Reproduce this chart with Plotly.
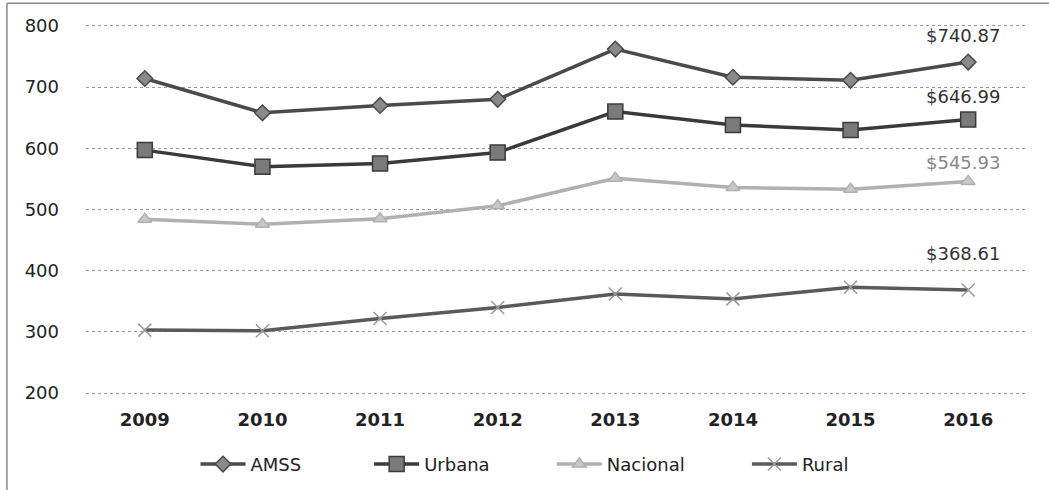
import plotly.graph_objects as go

years = ["2009", "2010", "2011", "2012", "2013", "2014", "2015", "2016"]
amss = [714, 658, 670, 680, 762, 716, 711, 740.87]
urbana = [597, 570, 575, 593, 660, 638, 630, 646.99]
nacional = [484, 476, 485, 506, 551, 536, 533, 545.93]
rural = [303, 302, 322, 340, 362, 354, 373, 368.61]
labels_end = ["$740.87", "$646.99", "$545.93", "$368.61"]

series = [
    ("AMSS", amss, "#4a4a4a", "#8a8a8a", "diamond", 12),
    ("Urbana", urbana, "#3a3a3a", "#7a7a7a", "square", 15),
    ("Nacional", nacional, "#b0b0b0", "#c8c8c8", "triangle-up", 12),
    ("Rural", rural, "#5a5a5a", "#9a9a9a", "x-thin-open", 13),
]
pads = [11, 10, 10, 0]

fig = go.Figure()
for (name, vals, lc, mc, sym, sz), p in zip(series, pads):
    fig.add_trace(go.Scatter(
        x=years, y=vals, name=name + "\u00a0" * p, mode="lines+markers",
        line=dict(color=lc, width=3.5),
        marker=dict(symbol=sym, size=sz, color=mc,
                    line=dict(color=lc, width=1.5)),
    ))

label_shift = [27, 23, 19, 36]
last = len(years) - 1
for (name, vals, lc, mc, sym, sz), lab, sh in zip(series, labels_end, label_shift):
    fig.add_annotation(x=last, y=vals[-1], text=lab, showarrow=False,
                       yshift=sh, xshift=-5,
                       font=dict(family="DejaVu Sans", size=18,
                                 color="#333333" if name != "Nacional" else "#888888"))

# partial frame (left and top edges, as in the scanned original)
fig.add_shape(type="line", xref="paper", yref="paper",
              x0=-0.084, x1=-0.084, y0=-0.26, y1=1.056,
              line=dict(color="#888888", width=1.5))
fig.add_shape(type="line", xref="paper", yref="paper",
              x0=-0.084, x1=1.03, y0=1.056, y1=1.056,
              line=dict(color="#888888", width=1.5))

fig.update_layout(
    width=1049, height=490,
    margin=dict(l=86, r=22, t=24, b=95, autoexpand=False),
    paper_bgcolor="white", plot_bgcolor="white",
    font=dict(family="DejaVu Sans", size=15, color="#222222"),
    showlegend=True,
    legend=dict(orientation="h", x=0.466, xanchor="center", y=-0.187,
                yanchor="middle", font=dict(size=18), itemwidth=45),
    xaxis=dict(type="category", categoryorder="array", categoryarray=years,
               range=[-0.5, len(years) - 0.5], showgrid=False, zeroline=False,
               tickfont=dict(size=18, family="DejaVu Sans", weight="bold"),
               ticks="", showline=False, ticklabelstandoff=12),
    yaxis=dict(range=[197, 803], dtick=100, tick0=200, showgrid=True,
               gridcolor="#999999", griddash="dot", gridwidth=1,
               zeroline=False, ticks="", ticklabelstandoff=26,
               tickfont=dict(size=18)),
)

fig.write_html("out.html", config={"displayModeBar": False},
               post_script="document.body.style.margin='0';document.body.style.padding='0';")
